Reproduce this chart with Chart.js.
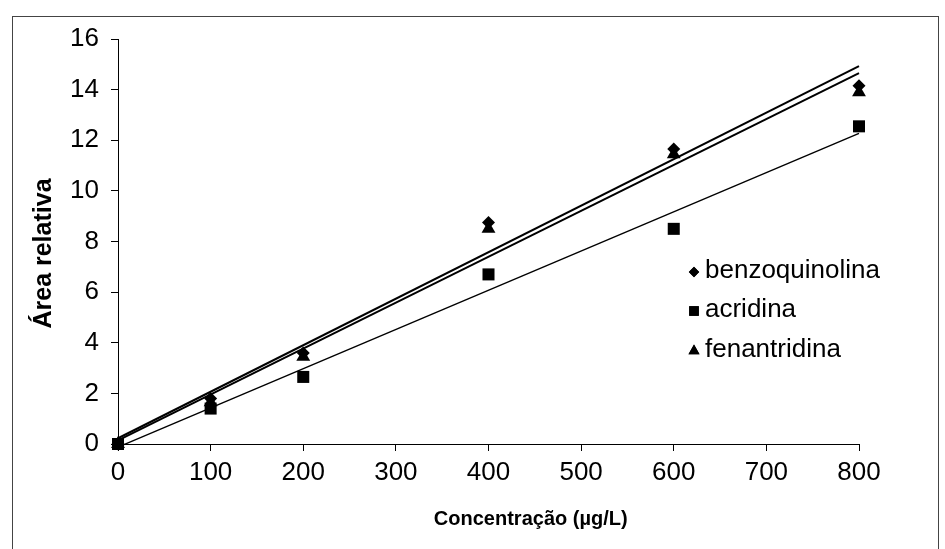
<!DOCTYPE html>
<html><head><meta charset="utf-8">
<script src="https://cdn.jsdelivr.net/npm/chart.js@4/dist/chart.umd.min.js"></script>
<style>html,body{margin:0;padding:0;background:#fff;}canvas{display:block;}</style>
</head><body>
<canvas id="c" width="945" height="549"></canvas>
<script>
// ---- data ----
const concentrations = [0, 100, 200, 400, 600, 800];
const benzoquinolina = [0, 1.8, 3.6, 8.75, 11.65, 14.15];
const acridina       = [0, 1.4, 2.65, 6.7, 8.5, 12.55];
const fenantridina   = [0, 1.65, 3.45, 8.5, 11.45, 13.9];
const seriesNames = ['benzoquinolina', 'acridina', 'fenantridina'];
const xTitle = 'Concentração (µg/L)';
const yTitle = 'Área relativa';

const FONT = '"Liberation Sans", Arial, sans-serif';

function pts(ys) { return concentrations.map((x, i) => ({x: x, y: ys[i]})); }
// least-squares trendline through the series (as the original linear trendlines)
function trend(ys) {
  const n = ys.length;
  const mx = concentrations.reduce((a, b) => a + b, 0) / n;
  const my = ys.reduce((a, b) => a + b, 0) / n;
  let sxy = 0, sxx = 0;
  concentrations.forEach((x, i) => { sxy += (x - mx) * (ys[i] - my); sxx += (x - mx) * (x - mx); });
  const b = sxy / sxx, a = my - b * mx;
  const x0 = concentrations[0], x1 = concentrations[n - 1];
  return [{x: x0, y: a + b * x0}, {x: x1, y: a + b * x1}];
}

const markerStyles = [
  {pointStyle: 'rectRot', radius: 6.5},
  {pointStyle: 'rect', radius: 8.5},
  {pointStyle: 'triangle', radius: 8}
];
const seriesData = [benzoquinolina, acridina, fenantridina];
const lineWidths = [2, 1.4, 2];

const datasets = [];
seriesData.forEach((ys, i) => {
  datasets.push({
    type: 'line', label: seriesNames[i] + ' (linear)', data: trend(ys),
    borderColor: '#000', borderWidth: lineWidths[i], pointRadius: 0, fill: false, clip: false
  });
});
seriesData.forEach((ys, i) => {
  datasets.push({
    type: 'scatter', label: seriesNames[i], data: pts(ys),
    pointStyle: markerStyles[i].pointStyle, pointRadius: markerStyles[i].radius,
    backgroundColor: '#000', borderColor: '#000', borderWidth: 0, showLine: false, clip: false
  });
});

const framePlugin = {
  id: 'frame',
  beforeDraw(chart) {
    const ctx = chart.ctx;
    ctx.save();
    ctx.fillStyle = '#fff';
    ctx.fillRect(0, 0, chart.width, chart.height);
    ctx.strokeStyle = '#444';
    ctx.lineWidth = 1;
    ctx.strokeRect(12.5, 16.5, 926, 620);
    ctx.restore();
  }
};

const titlesPlugin = {
  id: 'titles',
  afterDraw(chart) {
    const ctx = chart.ctx, a = chart.chartArea;
    ctx.save();
    ctx.fillStyle = '#000';
    ctx.textAlign = 'center';
    ctx.textBaseline = 'middle';
    ctx.font = 'bold 20px ' + FONT;
    ctx.fillText(xTitle, a.left + (a.right - a.left) * 0.557, 519);
    ctx.font = 'bold 25px ' + FONT;
    ctx.translate(44, (a.top + a.bottom) / 2 + 12);
    ctx.rotate(-Math.PI / 2);
    ctx.fillText(yTitle, 0, 0);
    ctx.restore();
  }
};

const legendPlugin = {
  id: 'innerLegend',
  afterDraw(chart) {
    const ctx = chart.ctx;
    const rows = [271, 310, 350];
    ctx.save();
    ctx.font = '26px ' + FONT;
    ctx.textBaseline = 'middle';
    ctx.textAlign = 'left';
    ctx.fillStyle = '#000';
    seriesNames.forEach((name, i) => {
      const ms = markerStyles[i];
      Chart.helpers.drawPoint(ctx, {pointStyle: ms.pointStyle, radius: ms.radius * 0.8, rotation: 0, borderWidth: 0}, 694, rows[i] + 1);
      ctx.fillStyle = '#000';
      ctx.fill();
      ctx.fillText(name, 705, rows[i]);
    });
    ctx.restore();
  }
};

new Chart(document.getElementById('c'), {
  data: {datasets: datasets},
  options: {
    responsive: false,
    animation: false,
    devicePixelRatio: 1,
    layout: {padding: {left: 0, top: 39, right: 86, bottom: 0}},
    plugins: {legend: {display: false}, tooltip: {enabled: false}},
    scales: {
      x: {
        type: 'linear', min: 0, max: 800,
        ticks: {stepSize: 100, color: '#000', font: {family: FONT, size: 26}, padding: 6, maxRotation: 0},
        grid: {drawOnChartArea: false, drawTicks: true, tickLength: 7, color: '#000', lineWidth: 1},
        border: {display: true, color: '#000', width: 1},
        afterFit(s) { s.height = 105; }
      },
      y: {
        type: 'linear', min: 0, max: 16,
        ticks: {stepSize: 2, color: '#000', font: {family: FONT, size: 26}, padding: 12},
        grid: {drawOnChartArea: false, drawTicks: true, tickLength: 7, color: '#000', lineWidth: 1},
        border: {display: true, color: '#000', width: 1},
        afterFit(s) { s.width = 118; }
      }
    }
  },
  plugins: [framePlugin, titlesPlugin, legendPlugin]
});
</script>
</body></html>
